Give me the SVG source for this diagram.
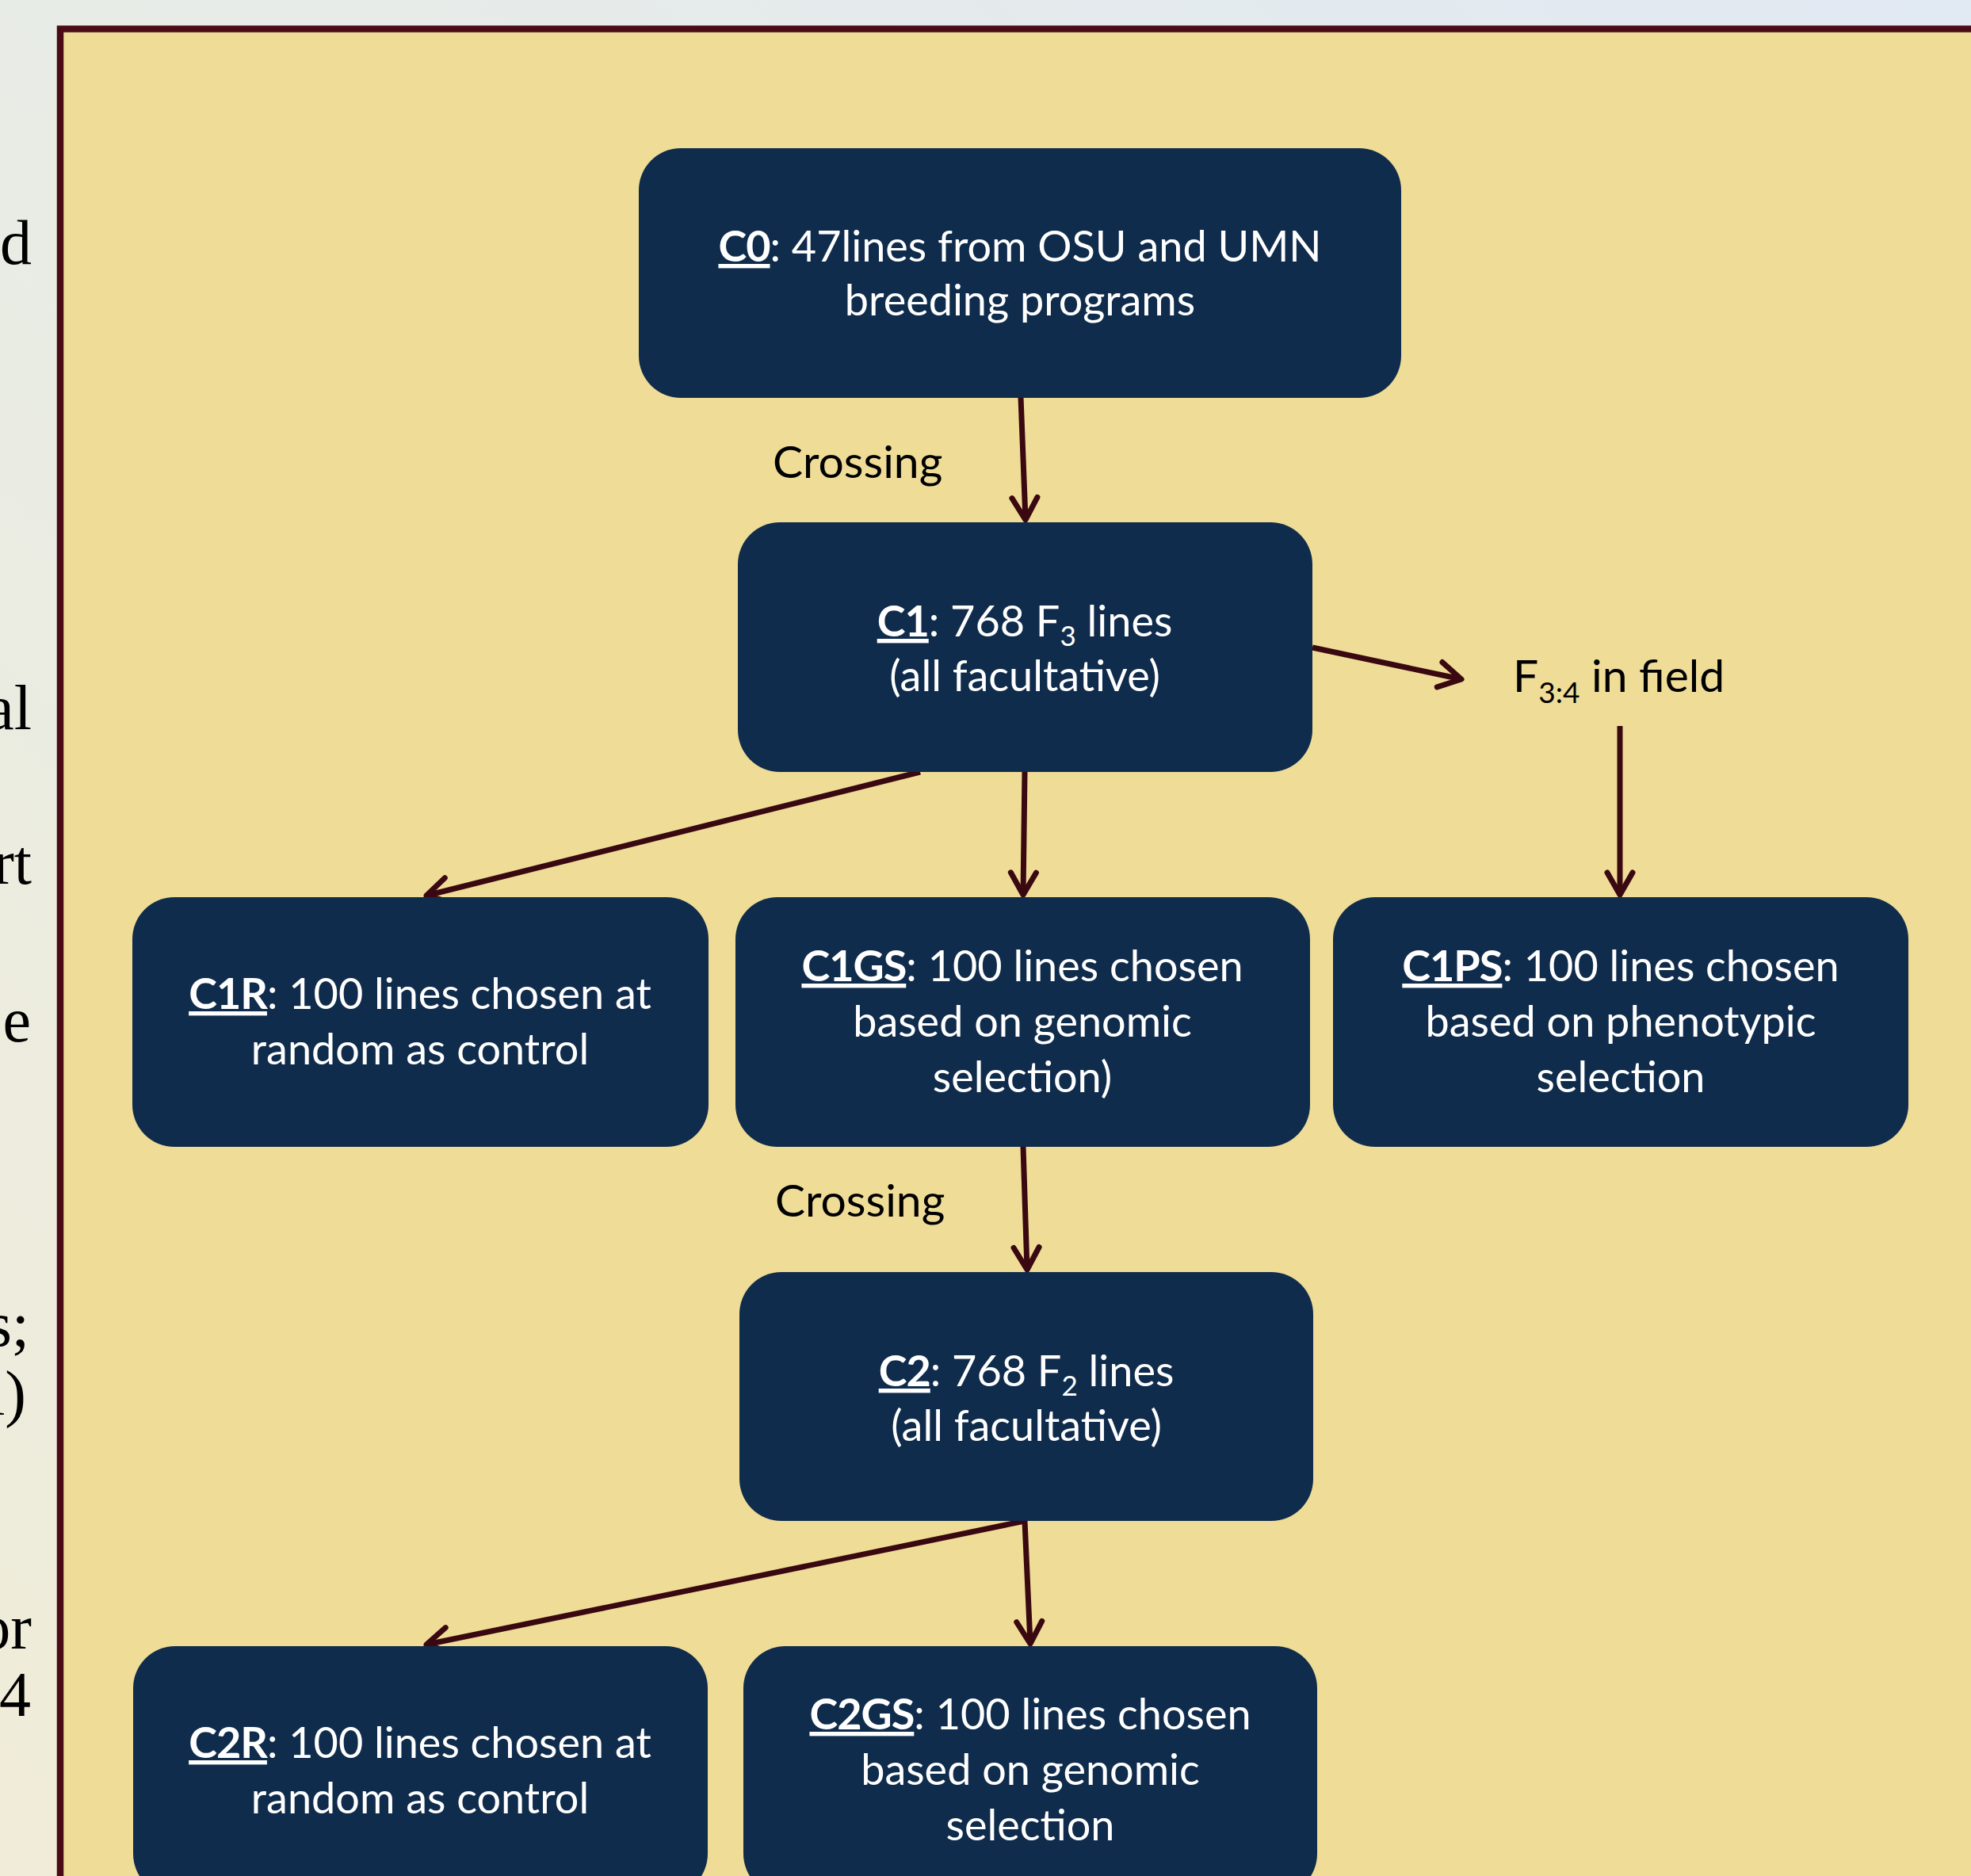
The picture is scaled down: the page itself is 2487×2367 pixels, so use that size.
<svg xmlns="http://www.w3.org/2000/svg" width="2487" height="2367" viewBox="0 0 2487 2367">
<defs>
<linearGradient id="bg" x1="0" y1="1" x2="1" y2="0">
<stop offset="0" stop-color="#f0ecd8"/>
<stop offset="0.5" stop-color="#e8ece6"/>
<stop offset="1" stop-color="#e1e9f3"/>
</linearGradient>
<marker id="ah" markerUnits="userSpaceOnUse" viewBox="-40 -24 46 48" refX="0" refY="0" markerWidth="46" markerHeight="48" orient="auto">
<path d="M-28,-16 L0,0 L-28,16" fill="none" stroke="#3a0810" stroke-width="7" stroke-linecap="round" stroke-linejoin="round"/>
</marker>
<style>
.box{fill:#102c4c;}
.wt{font-family:Lato,"Open Sans","Liberation Sans",sans-serif;font-size:54px;fill:#ffffff;text-anchor:middle;}
.bt{font-family:Lato,"Open Sans","Liberation Sans",sans-serif;font-size:57px;fill:#000000;}
.b{font-weight:bold;text-decoration:underline;letter-spacing:-1px;}
.side{font-family:"Liberation Serif","DejaVu Serif",serif;font-size:80px;fill:#000000;text-anchor:end;}
.con{fill:none;stroke:#3a0810;stroke-width:7;marker-end:url(#ah);}
</style>
</defs>
<rect x="0" y="0" width="2487" height="2367" fill="url(#bg)"/>
<g id="side-text">
<text class="side" x="40" y="333">d</text>
<text class="side" x="40" y="920">al</text>
<text class="side" x="40" y="1115">rt</text>
<text class="side" x="39" y="1314">e</text>
<text class="side" x="37" y="1698">s;</text>
<text class="side" x="33" y="1785">l)</text>
<text class="side" x="40" y="2080">or</text>
<text class="side" x="39" y="2165">4</text>
</g>
<rect id="frame" x="76" y="36.5" width="2600" height="2500" fill="#eedc97" stroke="#4a0b16" stroke-width="8.5"/>
<g id="connectors">
<line class="con" x1="1288" y1="501" x2="1294" y2="656"/>
<line class="con" x1="1656" y1="817" x2="1844" y2="857"/>
<line class="con" x1="2044" y1="916" x2="2044" y2="1129"/>
<line class="con" x1="1161" y1="974" x2="538" y2="1130"/>
<line class="con" x1="1293" y1="974" x2="1291" y2="1129"/>
<line class="con" x1="1291" y1="1447" x2="1296" y2="1602"/>
<line class="con" x1="1293" y1="1919" x2="538" y2="2075"/>
<line class="con" x1="1293" y1="1919" x2="1300" y2="2074"/>
</g>
<g id="label-crossing-1"><text class="bt" x="975" y="603">Crossing</text></g>
<g id="label-crossing-2"><text class="bt" x="978" y="1535">Crossing</text></g>
<g id="F34">
<text class="bt" x="1909" y="873">F<tspan font-size="37" dy="14">3:4</tspan><tspan dy="-14"> in field</tspan></text>
</g>
<g id="C0">
<rect class="box" x="806" y="187" width="962" height="315" rx="53" ry="53"/>
<text class="wt" x="1287" y="330"><tspan class="b">C0</tspan>: 47lines from OSU and UMN</text>
<text class="wt" x="1287" y="398">breeding programs</text>
</g>
<g id="C1">
<rect class="box" x="931" y="659" width="725" height="315" rx="53" ry="53"/>
<text class="wt" x="1293" y="803"><tspan class="b">C1</tspan>: 768 F<tspan font-size="35" dy="12">3</tspan><tspan dy="-12"> lines</tspan></text>
<text class="wt" x="1293" y="872">(all facultative)</text>
</g>
<g id="C1R">
<rect class="box" x="167" y="1132" width="727" height="315" rx="53" ry="53"/>
<text class="wt" x="530" y="1273"><tspan class="b">C1R</tspan>: 100 lines chosen at</text>
<text class="wt" x="530" y="1343">random as control</text>
</g>
<g id="C1GS">
<rect class="box" x="928" y="1132" width="725" height="315" rx="53" ry="53"/>
<text class="wt" x="1290" y="1238"><tspan class="b">C1GS</tspan>: 100 lines chosen</text>
<text class="wt" x="1290" y="1308">based on genomic</text>
<text class="wt" x="1290" y="1378">selection)</text>
</g>
<g id="C1PS">
<rect class="box" x="1682" y="1132" width="726" height="315" rx="53" ry="53"/>
<text class="wt" x="2045" y="1238"><tspan class="b">C1PS</tspan>: 100 lines chosen</text>
<text class="wt" x="2045" y="1308">based on phenotypic</text>
<text class="wt" x="2045" y="1378">selection</text>
</g>
<g id="C2">
<rect class="box" x="933" y="1605" width="724" height="314" rx="53" ry="53"/>
<text class="wt" x="1295" y="1749"><tspan class="b">C2</tspan>: 768 F<tspan font-size="35" dy="12">2</tspan><tspan dy="-12"> lines</tspan></text>
<text class="wt" x="1295" y="1818">(all facultative)</text>
</g>
<g id="C2R">
<rect class="box" x="168" y="2077" width="725" height="315" rx="53" ry="53"/>
<text class="wt" x="530" y="2218"><tspan class="b">C2R</tspan>: 100 lines chosen at</text>
<text class="wt" x="530" y="2288">random as control</text>
</g>
<g id="C2GS">
<rect class="box" x="938" y="2077" width="724" height="315" rx="53" ry="53"/>
<text class="wt" x="1300" y="2182"><tspan class="b">C2GS</tspan>: 100 lines chosen</text>
<text class="wt" x="1300" y="2252">based on genomic</text>
<text class="wt" x="1300" y="2322">selection</text>
</g>
</svg>
